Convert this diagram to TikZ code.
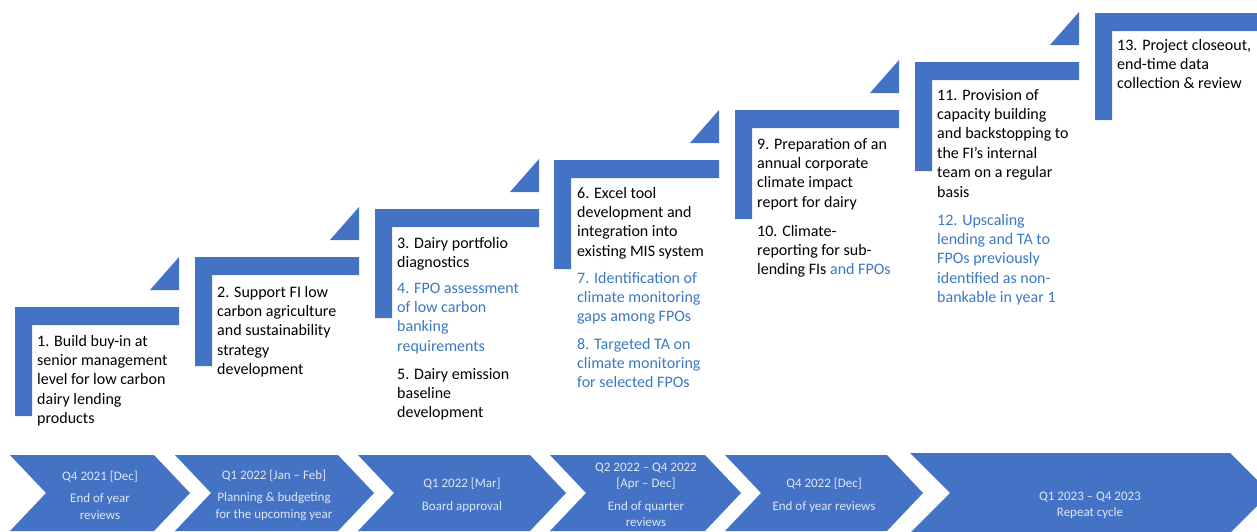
\documentclass[tikz,border=0pt]{standalone}
\usepackage{fontspec}
\setmainfont{Carlito}

\begin{document}
\begin{tikzpicture}[x=1pt,y=-1pt,
  stepbar/.style={fill=roadmap_blue},
  chevbar/.style={fill=roadmap_blue},
  steptext/.style={anchor=north west,inner sep=0pt,align=left,text=black,font=\fontsize{16}{19.4}\selectfont},
  fpotext/.style={steptext,text=roadmap_fpo},
  chevtext/.style={anchor=center,inner sep=0pt,align=center,text=roadmap_light,font=\fontsize{13}{16.2}\selectfont}]
\definecolor{roadmap_blue}{RGB}{68,114,196}
\definecolor{roadmap_fpo}{RGB}{58,120,195}
\definecolor{roadmap_light}{RGB}{222,230,244}
\useasboundingbox (0,0) rectangle (1257,531);
% steps going up
\fill[stepbar] (15,307) -- ++(164,0) -- ++(0,18) -- ++(-147,0) -- ++(0,91) -- ++(-17,0) -- cycle;
\fill[stepbar] (150,290) -- ++(29,0) -- ++(0,-33) -- cycle;
\fill[stepbar] (195,257) -- ++(164,0) -- ++(0,18) -- ++(-147,0) -- ++(0,91) -- ++(-17,0) -- cycle;
\fill[stepbar] (330,240) -- ++(29,0) -- ++(0,-33) -- cycle;
\fill[stepbar] (375,209) -- ++(164,0) -- ++(0,18) -- ++(-147,0) -- ++(0,91) -- ++(-17,0) -- cycle;
\fill[stepbar] (510,192) -- ++(29,0) -- ++(0,-33) -- cycle;
\fill[stepbar] (554,160) -- ++(165,0) -- ++(0,18) -- ++(-148,0) -- ++(0,91) -- ++(-17,0) -- cycle;
\fill[stepbar] (690,143) -- ++(29,0) -- ++(0,-33) -- cycle;
\fill[stepbar] (735,110) -- ++(164,0) -- ++(0,18) -- ++(-147,0) -- ++(0,91) -- ++(-17,0) -- cycle;
\fill[stepbar] (870,93) -- ++(29,0) -- ++(0,-33) -- cycle;
\fill[stepbar] (915,62) -- ++(164,0) -- ++(0,18) -- ++(-147,0) -- ++(0,91) -- ++(-17,0) -- cycle;
\fill[stepbar] (1050,45) -- ++(29,0) -- ++(0,-33) -- cycle;
\fill[stepbar] (1095,13) -- ++(164,0) -- ++(0,18) -- ++(-147,0) -- ++(0,89) -- ++(-17,0) -- cycle;
% step texts
\node[steptext] (step1) at (37,332.4) {\strut 1. Build buy-in at\\senior management\\level for low carbon\\dairy lending\\products};
\node[steptext] (step2) at (217,283.4) {\strut 2. Support FI low\\carbon agriculture\\and sustainability\\strategy\\development};
\node[steptext] (step3) at (397,234.4) {\strut 3. Dairy portfolio\\diagnostics};
\node[fpotext] (step4) at (397,279.4) {\strut 4. FPO assessment\\of low carbon\\banking\\requirements};
\node[steptext] (step5) at (397,365.4) {\strut 5. Dairy emission\\baseline\\development};
\node[steptext] (step6) at (577,184.4) {\strut 6. Excel tool\\development and\\integration into\\existing MIS system};
\node[fpotext] (step7) at (577,269.4) {\strut 7. Identification of\\climate monitoring\\gaps among FPOs};
\node[fpotext] (step8) at (577,335.4) {\strut 8. Targeted TA on\\climate monitoring\\for selected FPOs};
\node[steptext] (step9) at (757,135.4) {\strut 9. Preparation of an\\annual corporate\\climate impact\\report for dairy};
\node[steptext] (step10) at (757,222.4) {\strut 10. Climate-\\reporting for sub-\\lending FIs \textcolor{roadmap_fpo}{and FPOs}};
\node[steptext] (step11) at (937,86.4) {\strut 11. Provision of\\capacity building\\and backstopping to\\the FI’s internal\\team on a regular\\basis};
\node[fpotext] (step12) at (937,211.4) {\strut 12. Upscaling\\lending and TA to\\FPOs previously\\identified as non-\\bankable in year 1};
\node[steptext] (step13) at (1117,36.4) {\strut 13. Project closeout,\\end-time data\\collection \& review};
% timeline chevrons
\fill[chevbar] (10,455) -- (154,455) -- (190,493) -- (154,531) -- (10,531) -- (46,493) -- cycle;
\fill[chevbar] (175,455) -- (338,455) -- (374,493) -- (338,531) -- (175,531) -- (211,493) -- cycle;
\fill[chevbar] (358,455) -- (530,455) -- (566,493) -- (530,531) -- (358,531) -- (394,493) -- cycle;
\fill[chevbar] (550,455) -- (705,455) -- (741,493) -- (705,531) -- (550,531) -- (586,493) -- cycle;
\fill[chevbar] (725,455) -- (887,455) -- (923,493) -- (887,531) -- (725,531) -- (761,493) -- cycle;
\fill[chevbar] (910,453) -- (1230,453) -- (1270,493) -- (1230,533) -- (910,533) -- (950,493) -- cycle;
\node[chevtext] (q1) at (100,495) {Q4 2021 [Dec]\\[6.5pt]End of year\\reviews};
\node[chevtext] (q2) at (274,495) {Q1 2022 [Jan \textendash{} Feb]\\[6.5pt]Planning \& budgeting\\for the upcoming year};
\node[chevtext] (q3) at (462,495) {Q1 2022 [Mar]\\[6.5pt]Board approval};
\node[chevtext] (q4) at (646,495) {Q2 2022 \textendash{} Q4 2022\\{}[Apr \textendash{} Dec]\\[6.5pt]End of quarter\\reviews};
\node[chevtext] (q5) at (824,495) {Q4 2022 [Dec]\\[6.5pt]End of year reviews};
\node[chevtext] (q6) at (1090,505.5) {Q1 2023 \textendash{} Q4 2023\\Repeat cycle};
\end{tikzpicture}
\end{document}
